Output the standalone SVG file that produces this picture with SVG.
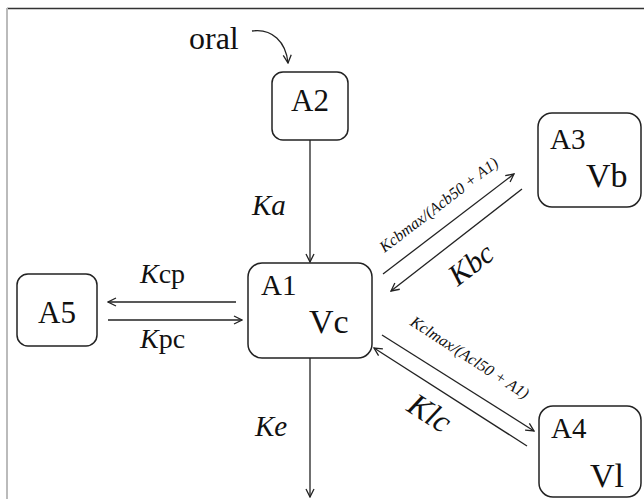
<svg xmlns="http://www.w3.org/2000/svg" width="644" height="499" viewBox="0 0 644 499">
<style>
.box{fill:#fff;stroke:#222;stroke-width:1.5}
.ln{fill:none;stroke:#222;stroke-width:1.3}
</style>
<defs>
<marker id="ah" viewBox="0 0 10 10" refX="9" refY="5" markerWidth="10" markerHeight="10" markerUnits="userSpaceOnUse" orient="auto">
<path d="M1,1 L9,5 L1,9" fill="none" stroke="#222" stroke-width="1.3"/>
</marker>
</defs>
<rect x="0" y="0" width="644" height="499" fill="#fff"/>
<line x1="7" y1="8.5" x2="644" y2="8.5" stroke="#333" stroke-width="1.5"/>
<line x1="7" y1="8" x2="7" y2="499" stroke="#bbb" stroke-width="2"/>
<g id="connectors">
<path class="ln" d="M252,31 C272,28 286,42 288,63" marker-end="url(#ah)"/>
<line class="ln" x1="310" y1="140" x2="310" y2="262" marker-end="url(#ah)"/>
<line class="ln" x1="310" y1="358" x2="310" y2="497" marker-end="url(#ah)"/>
<line class="ln" x1="236" y1="302" x2="108" y2="302" marker-end="url(#ah)"/>
<line class="ln" x1="108" y1="320" x2="242" y2="320" marker-end="url(#ah)"/>
<line class="ln" x1="383" y1="274" x2="514" y2="174" marker-end="url(#ah)"/>
<line class="ln" x1="522" y1="189" x2="391" y2="291" marker-end="url(#ah)"/>
<line class="ln" x1="382" y1="335" x2="534" y2="431" marker-end="url(#ah)"/>
<line class="ln" x1="527" y1="446" x2="374" y2="348" marker-end="url(#ah)"/>
</g>
<g id="labels" font-family="Liberation Serif" fill="#111">
<text x="189" y="49" font-size="32" font-family="Liberation Serif">oral</text>
<text x="252" y="215" font-size="29" font-style="italic" font-family="Liberation Serif">Ka</text>
<text x="255" y="436" font-size="29" font-style="italic" font-family="Liberation Serif">Ke</text>
<text x="140" y="283" font-size="28" font-family="Liberation Serif"><tspan font-style="italic">K</tspan>cp</text>
<text x="140" y="348" font-size="28" font-family="Liberation Serif"><tspan font-style="italic">K</tspan>pc</text>
<text font-size="16" font-style="italic" font-family="Liberation Serif" text-anchor="middle" transform="translate(442,209) rotate(-37.4)">Kcbmax/(Acb50 + A1)</text>
<text font-size="30" font-style="italic" font-family="Liberation Serif" text-anchor="middle" transform="translate(477,272) rotate(-37.4)">Kbc</text>
<text font-size="16" font-style="italic" font-family="Liberation Serif" text-anchor="middle" transform="translate(467,362) rotate(33)">Kclmax/(Acl50 + A1)</text>
<text font-size="32" font-style="italic" font-family="Liberation Serif" text-anchor="middle" transform="translate(424,422) rotate(33)">Klc</text>
</g>
<g id="A2" font-family="Liberation Serif" fill="#111">
<rect class="box" x="272" y="72" width="76" height="68" rx="11"/>
<text x="310" y="111" font-size="31" text-anchor="middle" font-family="Liberation Serif">A2</text>
</g>
<g id="A1" font-family="Liberation Serif" fill="#111">
<rect class="box" x="248" y="263" width="124" height="95" rx="14"/>
<text x="261" y="295" font-size="29" font-family="Liberation Serif">A1</text>
<text x="309" y="333" font-size="34" font-family="Liberation Serif">Vc</text>
</g>
<g id="A5" font-family="Liberation Serif" fill="#111">
<rect class="box" x="17" y="274" width="80" height="72" rx="11"/>
<text x="57" y="323" font-size="31" text-anchor="middle" font-family="Liberation Serif">A5</text>
</g>
<g id="A3" font-family="Liberation Serif" fill="#111">
<rect class="box" x="538" y="113" width="103" height="94" rx="14"/>
<text x="550" y="149" font-size="29" font-family="Liberation Serif">A3</text>
<text x="586" y="187" font-size="34" font-family="Liberation Serif">Vb</text>
</g>
<g id="A4" font-family="Liberation Serif" fill="#111">
<rect class="box" x="539" y="406" width="102" height="91" rx="14"/>
<text x="551" y="438" font-size="29" font-family="Liberation Serif">A4</text>
<text x="590" y="487" font-size="34" font-family="Liberation Serif">Vl</text>
</g>
</svg>
